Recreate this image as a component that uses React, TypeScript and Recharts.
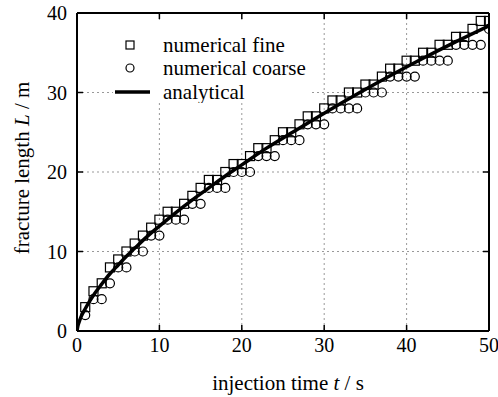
import { ComposedChart, Line, Scatter, XAxis, YAxis, CartesianGrid, Label } from 'recharts';

const fineTime = [1, 2, 3, 4, 5, 6, 7, 8, 9, 10, 11, 12, 13, 14, 15, 16, 17, 18, 19, 20, 21, 22, 23, 24, 25,
  26, 27, 28, 29, 30, 31, 32, 33, 34, 35, 36, 37, 38, 39, 40, 41, 42, 43, 44, 45, 46, 47, 48, 49, 50];
const fineLength = [3, 5, 6, 8, 9, 10, 11, 12, 13, 14, 15, 15, 16, 17, 18, 19, 19, 20, 21, 21, 22, 23, 23, 24, 25,
  25, 26, 27, 27, 28, 29, 29, 30, 30, 31, 31, 32, 33, 33, 34, 34, 35, 35, 36, 36, 37, 37, 38, 39, 39];

const coarseTime = fineTime;
const coarseLength = [2, 4, 4, 6, 8, 8, 10, 10, 12, 12, 14, 14, 14, 16, 16, 18, 18, 18, 20, 20, 20, 22, 22, 22, 24,
  24, 24, 26, 26, 26, 28, 28, 28, 28, 30, 30, 30, 32, 32, 32, 32, 34, 34, 34, 34, 36, 36, 36, 36, 38];

const analyticalTime = [0, 0.1, 0.25, 0.5, 1, 1.5, 2, 3, 4, 5, 6, 7, 8, 10, 12, 14, 16, 18, 20, 23, 26, 30, 34, 38, 42, 46, 50];
const analyticalLength = [0, 0.6, 1.1, 1.8, 2.8, 3.7, 4.5, 5.9, 7.2, 8.3, 9.4, 10.4, 11.4, 13.2, 14.9, 16.5, 18.0, 19.5,
  20.9, 23.0, 24.9, 27.4, 29.8, 32.1, 34.3, 36.4, 38.4];

const xTicks = [0, 10, 20, 30, 40, 50];
const yTicks = [0, 10, 20, 30, 40];

const fineData = fineTime.map((t, i) => ({ t, L: fineLength[i] }));
const coarseData = coarseTime.map((t, i) => ({ t, L: coarseLength[i] }));
const analyticalData = analyticalTime.map((t, i) => ({ t, L: analyticalLength[i] }));

const FONT = 'Liberation Serif, Times New Roman, serif';
const TICK_LEN = 6;

const SquareShape = (props: any) => {
  const { cx, cy } = props;
  return <rect x={cx - 4.5} y={cy - 4.5} width={9} height={9} fill="none" stroke="#000" strokeWidth={1.2} />;
};

const CircleShape = (props: any) => {
  const { cx, cy } = props;
  return <circle cx={cx} cy={cy} r={4.5} fill="none" stroke="#000" strokeWidth={1.2} />;
};

const BottomTick = (props: any) => {
  const { x, y, payload } = props;
  return (
    <g>
      <line x1={x} y1={y} x2={x} y2={y - TICK_LEN} stroke="#000" strokeWidth={1.5} />
      <text x={x} y={y + 21} textAnchor="middle" fontFamily={FONT} fontSize={20} fill="#000">{payload.value}</text>
    </g>
  );
};

const TopTick = (props: any) => {
  const { x, y } = props;
  return <line x1={x} y1={y} x2={x} y2={y + TICK_LEN} stroke="#000" strokeWidth={1.5} />;
};

const LeftTick = (props: any) => {
  const { x, y, payload } = props;
  return (
    <g>
      <line x1={x} y1={y} x2={x + TICK_LEN} y2={y} stroke="#000" strokeWidth={1.5} />
      <text x={x - 10} y={y + 7} textAnchor="end" fontFamily={FONT} fontSize={20} fill="#000">{payload.value}</text>
    </g>
  );
};

const RightTick = (props: any) => {
  const { x, y } = props;
  return <line x1={x} y1={y} x2={x - TICK_LEN} y2={y} stroke="#000" strokeWidth={1.5} />;
};

// legend drawn as an overlay, its white box hides the grid behind it
const LegendBox = () => (
  <div style={{ position: 'absolute', left: 113, top: 20, width: 199, height: 83, background: '#fff' }}>
    <svg width={199} height={83} style={{ display: 'block' }}>
      <rect x={13} y={21} width={8} height={8} fill="none" stroke="#000" strokeWidth={1.2} />
      <text x={50} y={32} fontFamily={FONT} fontSize={21} fill="#000">numerical fine</text>
      <circle cx={17} cy={48} r={4} fill="none" stroke="#000" strokeWidth={1.2} />
      <text x={50} y={55} fontFamily={FONT} fontSize={21} fill="#000">numerical coarse</text>
      <line x1={2} y1={72} x2={37} y2={72} stroke="#000" strokeWidth={3.5} />
      <text x={50} y={79} fontFamily={FONT} fontSize={21} fill="#000">analytical</text>
    </svg>
  </div>
);

export default function App() {
  return (
    <div style={{ position: 'absolute', left: 0, top: 0, width: 498, height: 397, background: '#fff' }}>
      <ComposedChart
        width={498}
        height={397}
        margin={{ top: 12, right: 8, bottom: 36, left: 37 }}
      >
        <CartesianGrid
          xAxisId="bottom"
          yAxisId="left"
          stroke="#999"
          strokeDasharray="2 3"
          strokeWidth={1}
          horizontalValues={[10, 20, 30]}
          verticalValues={[10, 20, 30, 40]}
        />
        <XAxis
          xAxisId="bottom"
          dataKey="t"
          type="number"
          domain={[0, 50]}
          ticks={xTicks}
          tickSize={0}
          tickMargin={0}
          height={30}
          tick={<BottomTick />}
          axisLine={{ stroke: '#000', strokeWidth: 2 }}
          tickLine={false}
          allowDataOverflow
        >
          <Label
            content={(p: any) => {
              const vb = p.viewBox;
              return (
                <text x={vb.x + vb.width / 2 + 5} y={390} textAnchor="middle" fontFamily={FONT} fontSize={21} fill="#000">
                  <tspan>injection time </tspan>
                  <tspan fontStyle="italic">t</tspan>
                  <tspan> / s</tspan>
                </text>
              );
            }}
          />
        </XAxis>
        <XAxis
          xAxisId="top"
          orientation="top"
          dataKey="t"
          type="number"
          domain={[0, 50]}
          ticks={xTicks}
          tickSize={0}
          tickMargin={0}
          height={1}
          tick={<TopTick />}
          axisLine={{ stroke: '#000', strokeWidth: 2 }}
          tickLine={false}
          allowDataOverflow
        />
        <YAxis
          yAxisId="left"
          type="number"
          domain={[0, 40]}
          ticks={yTicks}
          tickSize={0}
          tickMargin={0}
          width={40}
          tick={<LeftTick />}
          axisLine={{ stroke: '#000', strokeWidth: 2 }}
          tickLine={false}
          allowDataOverflow
        >
          <Label
            content={(p: any) => {
              const vb = p.viewBox;
              const cy = vb.y + vb.height / 2 - 4;
              return (
                <text x={22} y={cy} transform={`rotate(-90 22 ${cy})`} dy={7} textAnchor="middle" fontFamily={FONT} fontSize={21} fill="#000">
                  <tspan>fracture length </tspan>
                  <tspan fontStyle="italic">L</tspan>
                  <tspan> / m</tspan>
                </text>
              );
            }}
          />
        </YAxis>
        <YAxis
          yAxisId="right"
          orientation="right"
          type="number"
          domain={[0, 40]}
          ticks={yTicks}
          tickSize={0}
          tickMargin={0}
          width={1}
          tick={<RightTick />}
          axisLine={{ stroke: '#000', strokeWidth: 2 }}
          tickLine={false}
          allowDataOverflow
        />
        <Scatter
          name="numerical fine"
          data={fineData}
          dataKey="L"
          xAxisId="bottom"
          yAxisId="left"
          shape={<SquareShape />}
          isAnimationActive={false}
        />
        <Scatter
          name="numerical coarse"
          data={coarseData}
          dataKey="L"
          xAxisId="bottom"
          yAxisId="left"
          shape={<CircleShape />}
          isAnimationActive={false}
        />
        <Line
          name="analytical"
          data={analyticalData}
          dataKey="L"
          xAxisId="bottom"
          yAxisId="left"
          type="monotone"
          stroke="#000"
          strokeWidth={3.5}
          dot={false}
          isAnimationActive={false}
        />
      </ComposedChart>
      <LegendBox />
    </div>
  );
}
